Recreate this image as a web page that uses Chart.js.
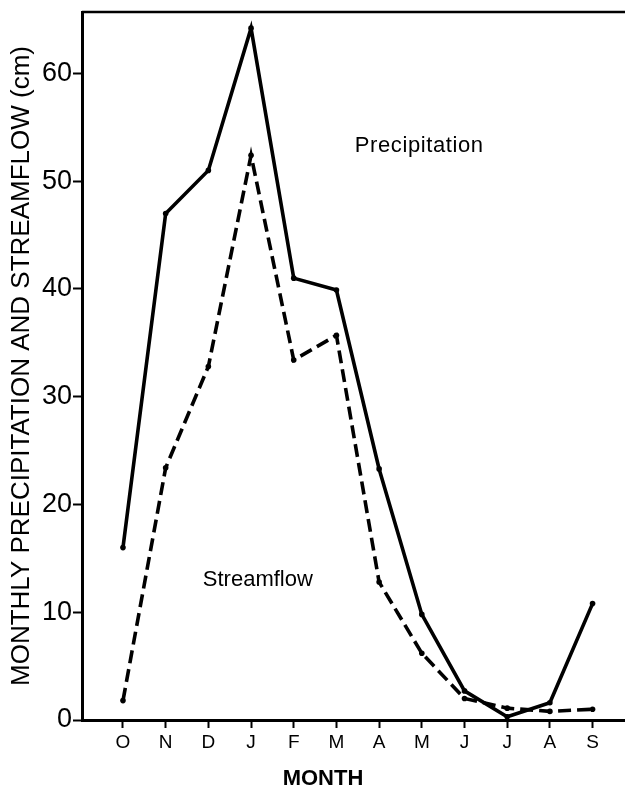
<!DOCTYPE html>
<html>
<head>
<meta charset="utf-8">
<script src="https://cdn.jsdelivr.net/npm/chart.js@4/dist/chart.umd.min.js"></script>
<style>
  html, body { margin: 0; padding: 0; background: #ffffff; }
  #wrap { width: 625px; height: 790px; }
</style>
</head>
<body>
<div id="wrap"><canvas id="c" width="625" height="790"></canvas></div>
<script>
const months = ['O', 'N', 'D', 'J', 'F', 'M', 'A', 'M', 'J', 'J', 'A', 'S'];
const precipitation = [16.0, 47.0, 51.0, 64.2, 41.0, 39.9, 23.3, 9.8, 2.7, 0.3, 1.6, 10.8];
const streamflow = [1.8, 23.4, 32.8, 52.4, 33.4, 35.7, 12.8, 6.2, 2.0, 1.1, 0.8, 1.0];
const yTicks = [0, 10, 20, 30, 40, 50, 60];

const toPoints = arr => arr.map((v, i) => ({ x: i, y: v }));
const FONT = "'Liberation Sans', Arial, Helvetica, sans-serif";

const frameTop = {
  id: 'frameTop',
  afterDraw(chart) {
    const { ctx, chartArea } = chart;
    ctx.save();
    ctx.strokeStyle = '#000';
    ctx.lineWidth = 2.5;
    ctx.beginPath();
    ctx.moveTo(chartArea.left, chartArea.top);
    ctx.lineTo(chartArea.right, chartArea.top);
    ctx.stroke();
    ctx.restore();
  }
};

const textLabels = {
  id: 'textLabels',
  afterDraw(chart, args, opts) {
    const { ctx } = chart;
    const xs = chart.scales.x, ys = chart.scales.y;
    ctx.save();
    ctx.fillStyle = '#000';
    (opts.items || []).forEach(it => {
      ctx.font = it.font;
      ctx.textAlign = it.align || 'left';
      ctx.textBaseline = 'middle';
      if ('letterSpacing' in ctx) ctx.letterSpacing = it.spacing || '0px';
      const px = it.px !== undefined ? it.px : xs.getPixelForValue(it.x);
      const py = it.py !== undefined ? it.py : ys.getPixelForValue(it.y);
      ctx.fillText(it.text, px, py);
    });
    ctx.restore();
  }
};

new Chart(document.getElementById('c'), {
  type: 'line',
  data: {
    datasets: [
      {
        label: 'Precipitation',
        data: toPoints(precipitation),
        borderColor: '#000',
        backgroundColor: '#000',
        borderWidth: 3.6,
        pointRadius: 2.8,
        pointBorderWidth: 0,
        tension: 0,
        fill: false
      },
      {
        label: 'Streamflow',
        data: toPoints(streamflow),
        borderColor: '#000',
        backgroundColor: '#000',
        borderWidth: 3.6,
        borderDash: [13, 6],
        pointRadius: 2.8,
        pointBorderWidth: 0,
        tension: 0,
        fill: false
      }
    ]
  },
  options: {
    responsive: false,
    devicePixelRatio: 1,
    animation: false,
    layout: { autoPadding: false, padding: { top: 12, right: 0, left: 0, bottom: 0 } },
    plugins: {
      legend: { display: false },
      tooltip: { enabled: false },
      textLabels: {
        items: [
          { text: 'Precipitation', x: 5.43, y: 53.3, font: '22px ' + FONT, spacing: '0.6px' },
          { text: 'Streamflow', x: 1.87, y: 13.0, font: '22px ' + FONT },
          { text: 'MONTH', px: 323, py: 779, align: 'center', font: 'bold 22px ' + FONT }
        ]
      }
    },
    scales: {
      x: {
        type: 'linear',
        min: -0.96,
        max: 11.76,
        afterBuildTicks: s => { s.ticks = months.map((m, i) => ({ value: i })); },
        afterFit: s => { s.height = 70; s.paddingLeft = 0; s.paddingRight = 0; },
        ticks: {
          callback: v => months[v],
          color: '#000',
          font: { family: FONT, size: 19 },
          padding: 3,
          maxRotation: 0,
          autoSkip: false
        },
        grid: { drawOnChartArea: false, drawTicks: true, tickLength: 8, tickWidth: 2, color: '#000' },
        border: { display: true, color: '#000', width: 3 },
        title: { display: false }
      },
      y: {
        type: 'linear',
        min: 0,
        max: 65.7,
        afterBuildTicks: s => { s.ticks = yTicks.map(v => ({ value: v })); },
        afterFit: s => { s.width = 82; s.paddingTop = 0; s.paddingBottom = 0; },
        ticks: {
          color: '#000',
          font: { family: FONT, size: 27 },
          padding: 1
        },
        grid: { drawOnChartArea: false, drawTicks: true, tickLength: 9, tickWidth: 2, color: '#000' },
        border: { display: true, color: '#000', width: 3 },
        title: {
          display: true,
          text: 'MONTHLY PRECIPITATION AND STREAMFLOW (cm)',
          color: '#000',
          font: { family: FONT, size: 26 },
          padding: { top: 6, bottom: 0 }
        }
      }
    }
  },
  plugins: [frameTop, textLabels]
});
</script>
</body>
</html>
